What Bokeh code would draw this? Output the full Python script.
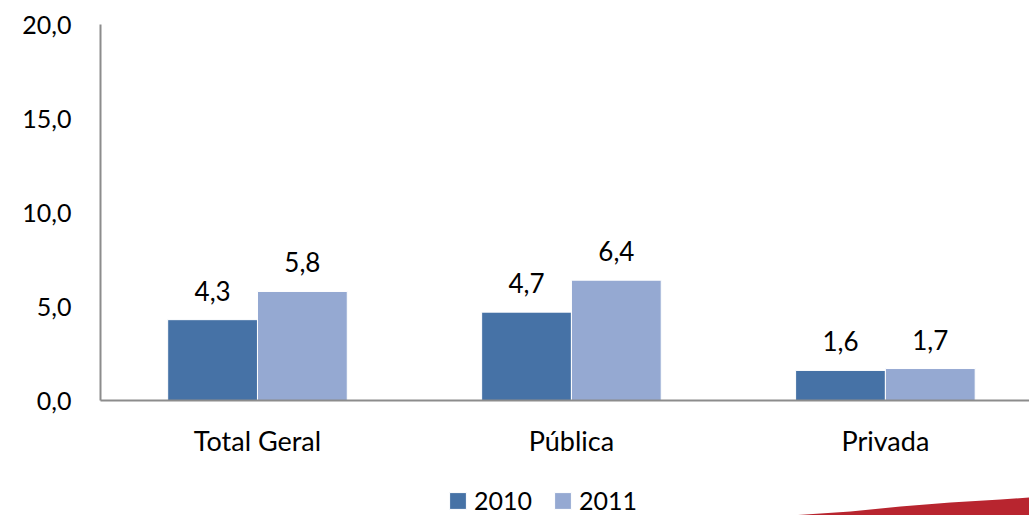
from bokeh.plotting import figure
from bokeh.layouts import column
from bokeh.models import (ColumnDataSource, Range1d, FixedTicker, CustomJSTickFormatter,
                          Legend, LegendItem)
from bokeh.transform import dodge
from bokeh.core.properties import value
from bokeh.embed import file_html
from bokeh.resources import INLINE

categories = ["Total Geral", "Pública", "Privada"]
series_names = ["2010", "2011"]
values_2010 = [4.3, 4.7, 1.6]
values_2011 = [5.8, 6.4, 1.7]
y_ticks = [0, 5, 10, 15, 20]

FONT = "Lato"
C2010 = "#4672A6"
C2011 = "#95A9D2"

idx = list(range(len(categories)))
fmt = lambda v: f"{v:.1f}".replace(".", ",")
src = ColumnDataSource(dict(
    x=idx,
    v2010=values_2010, v2011=values_2011,
    l2010=[fmt(v) for v in values_2010],
    l2011=[fmt(v) for v in values_2011],
))

p = figure(width=1029, height=470, output_backend="svg", toolbar_location=None,
           x_range=Range1d(-0.5, 2.459), y_range=Range1d(0, 20),
           min_border_left=100, min_border_right=0, min_border_top=24,
           min_border_bottom=70)
p.outline_line_color = None
p.xgrid.grid_line_color = None
p.ygrid.grid_line_color = None

off = 0.143
w = 0.286
r1 = p.vbar(x=dodge("x", -off, range=p.x_range), top="v2010", width=w, source=src,
            fill_color=C2010, line_color="white", line_width=1)
r2 = p.vbar(x=dodge("x", off, range=p.x_range), top="v2011", width=w, source=src,
            fill_color=C2011, line_color="white", line_width=1)

p.text(x=dodge("x", -off, range=p.x_range), y="v2010", text="l2010", source=src,
       text_align="center", text_baseline="bottom", y_offset=-19,
       text_font=value(FONT), text_font_size="26px", text_color="black")
p.text(x=dodge("x", off, range=p.x_range), y="v2011", text="l2011", source=src,
       text_align="center", text_baseline="bottom", y_offset=-19,
       text_font=value(FONT), text_font_size="26px", text_color="black")

# axes
p.xaxis.ticker = FixedTicker(ticks=idx)
p.xaxis.major_label_overrides = {i: c for i, c in zip(idx, categories)}
p.xaxis.major_tick_line_color = None
p.xaxis.minor_tick_line_color = None
p.xaxis.axis_line_color = "#8C8C8C"
p.xaxis.axis_line_width = 2
p.xaxis.major_label_text_font = FONT
p.xaxis.major_label_text_font_size = "27px"
p.xaxis.major_label_text_color = "black"
p.xaxis.major_label_standoff = 17

p.yaxis.ticker = FixedTicker(ticks=y_ticks)
p.yaxis.formatter = CustomJSTickFormatter(code="return tick.toFixed(1).replace('.', ',');")
p.yaxis.major_tick_line_color = None
p.yaxis.minor_tick_line_color = None
p.yaxis.axis_line_color = "#8C8C8C"
p.yaxis.axis_line_width = 2
p.yaxis.major_label_text_font = FONT
p.yaxis.major_label_text_font_size = "25px"
p.yaxis.major_label_text_color = "black"
p.yaxis.major_label_standoff = 23

# legend strip below the chart (its frame is aligned with the chart frame, x from 100 to 1029)
q = figure(width=1029, height=45, output_backend="svg", toolbar_location=None,
           x_range=Range1d(100, 1029), y_range=Range1d(0, 45),
           x_axis_location=None, y_axis_location=None,
           min_border_left=0, min_border_right=0, min_border_top=0,
           min_border_bottom=0)
q.grid.visible = False
q.outline_line_color = None

# decorative red swoosh (slide background) at bottom right
swoosh_x = [790, 850, 900, 950, 1000, 1029, 1029]
swoosh_y = [0, 4, 9, 13, 16, 18, 0]
q.patch(swoosh_x, swoosh_y, fill_color="#B8252F", line_color=None)

# legend proxies placed outside the visible range
e1 = q.vbar(x=[-500], top=[-500], width=1, fill_color=C2010, line_color="white")
e2 = q.vbar(x=[-500], top=[-500], width=1, fill_color=C2011, line_color="white")
legend = Legend(items=[LegendItem(label=series_names[0], renderers=[e1]),
                       LegendItem(label=series_names[1], renderers=[e2])],
                orientation="horizontal", location=(347, 0),
                label_text_font=FONT, label_text_font_size="25px",
                label_text_color="black",
                glyph_width=21, glyph_height=21, spacing=20, label_standoff=6,
                padding=0, margin=0, border_line_color=None,
                background_fill_alpha=0)
q.add_layout(legend, "center")

layout = column(p, q, spacing=0)
open("out.html", "w").write(file_html(layout, INLINE))
